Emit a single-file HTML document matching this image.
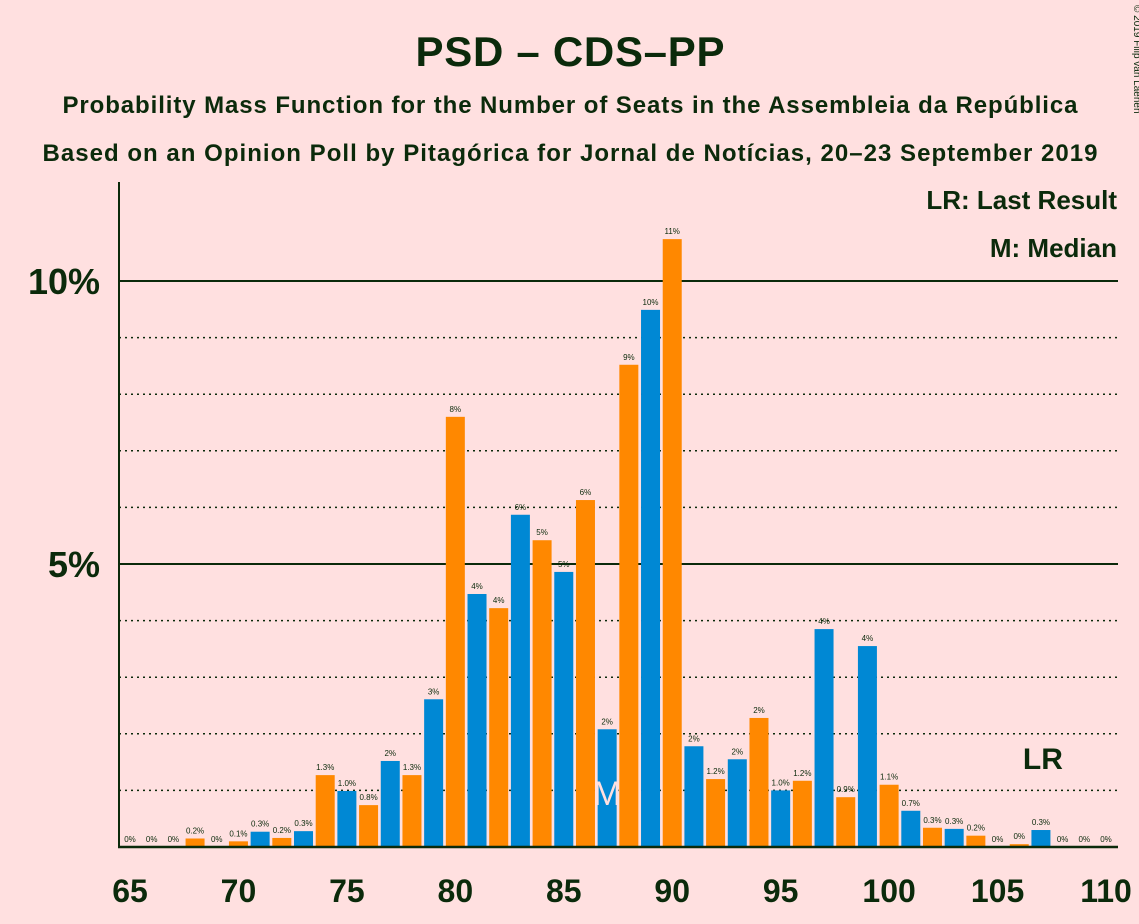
<!DOCTYPE html>
<html><head><meta charset="utf-8"><style>
body{margin:0;background:#FFE0E0;}
svg{display:block;font-family:"Liberation Sans",sans-serif;}
</style></head><body>
<svg id="c" width="1139" height="924">
<rect width="1139" height="924" fill="#FFE0E0"/>
<text x="570" y="66" text-anchor="middle" font-size="42" font-weight="bold" fill="#0B2A0B" textLength="309">PSD – CDS–PP</text>
<text x="570" y="113" text-anchor="middle" font-size="24" font-weight="bold" fill="#0B2A0B" textLength="1015">Probability Mass Function for the Number of Seats in the Assembleia da República</text>
<text x="570" y="161" text-anchor="middle" font-size="24" font-weight="bold" fill="#0B2A0B" textLength="1055">Based on an Opinion Poll by Pitagórica for Jornal de Notícias, 20–23 September 2019</text>
<text x="1134" y="5" font-size="10" fill="#0B2A0B" transform="rotate(90 1134 5)">© 2019 Filip van Laenen</text>
<text x="1117" y="209" text-anchor="end" font-size="26" font-weight="bold" fill="#0B2A0B">LR: Last Result</text>
<text x="1117" y="257" text-anchor="end" font-size="26" font-weight="bold" fill="#0B2A0B">M: Median</text>
<g id="grid"></g><g id="bars"></g><g id="labels"></g><g id="xt"></g>
</svg>
<script>
const seats=[65,66,67,68,69,70,71,72,73,74,75,76,77,78,79,80,81,82,83,84,85,86,87,88,89,90,91,92,93,94,95,96,97,98,99,100,101,102,103,104,105,106,107,108,109,110];
const values=[0,0,0,0.15,0,0.1,0.27,0.16,0.28,1.27,0.99,0.74,1.52,1.27,2.61,7.6,4.47,4.22,5.87,5.42,4.86,6.13,2.08,8.52,9.49,10.74,1.78,1.2,1.55,2.28,1.0,1.17,3.85,0.88,3.55,1.1,0.64,0.34,0.32,0.2,0,0.05,0.3,0,0,0];
const printed=["0%","0%","0%","0.2%","0%","0.1%","0.3%","0.2%","0.3%","1.3%","1.0%","0.8%","2%","1.3%","3%","8%","4%","4%","6%","5%","5%","6%","2%","9%","10%","11%","2%","1.2%","2%","2%","1.0%","1.2%","4%","0.9%","4%","1.1%","0.7%","0.3%","0.3%","0.2%","0%","0%","0.3%","0%","0%","0%"];
const xTicks=[65,70,75,80,85,90,95,100,105,110];
const yGrid=[1,2,3,4,5,6,7,8,9,10];
const yLabels=[5,10];
const median=87, lastResult=107;
const X=s=>130+(s-65)*(1106-130)/45;
const Y=v=>847-v*56.6;
const NS="http://www.w3.org/2000/svg";
function mk(p,t,a){const e=document.createElementNS(NS,t);for(const k in a)e.setAttribute(k,a[k]);p.appendChild(e);return e;}
const g=document.getElementById('grid'),b=document.getElementById('bars'),l=document.getElementById('labels'),xt=document.getElementById('xt');
yGrid.forEach(v=>{const ln=mk(g,'line',{x1:119,x2:1118,y1:Y(v),y2:Y(v),stroke:'#0B2A0B','stroke-width':v%5==0?2:1.5,'stroke-dasharray':v%5==0?'':'2,4'});

});
yLabels.forEach(v=>{const t=mk(g,'text',{x:100,y:Y(v)+13,'text-anchor':'end','font-size':36,'font-weight':'bold',fill:'#0B2A0B'});t.textContent=v+'%';

});
seats.forEach((s,i)=>{const v=values[i];const r=mk(b,'rect',{x:X(s)-9.5,y:Y(v),width:19,height:847-Y(v),fill:s%2?'#0088D4':'#FF8800'});


const t=mk(l,'text',{x:X(s),y:Y(v)-5,'text-anchor':'middle','font-size':8,fill:'#0B2A0B'});t.textContent=printed[i];

});
const m=mk(l,'text',{x:X(median),y:805,'text-anchor':'middle','font-size':34,fill:'#FFE0E0'});m.textContent='M';


const lr=mk(l,'text',{x:X(lastResult)+2,y:769,'text-anchor':'middle','font-size':30,'font-weight':'bold',fill:'#0B2A0B'});lr.textContent='LR';


const ax=mk(xt,'line',{x1:119,x2:119,y1:182,y2:848,stroke:'#0B2A0B','stroke-width':2});


const bx=mk(xt,'line',{x1:118,x2:1118,y1:847,y2:847,stroke:'#0B2A0B','stroke-width':2.5});


xTicks.forEach(s=>{const t=mk(xt,'text',{x:X(s),y:902,'text-anchor':'middle','font-size':32,'font-weight':'bold',fill:'#0B2A0B'});t.textContent=s;

});
</script>
</body></html>
